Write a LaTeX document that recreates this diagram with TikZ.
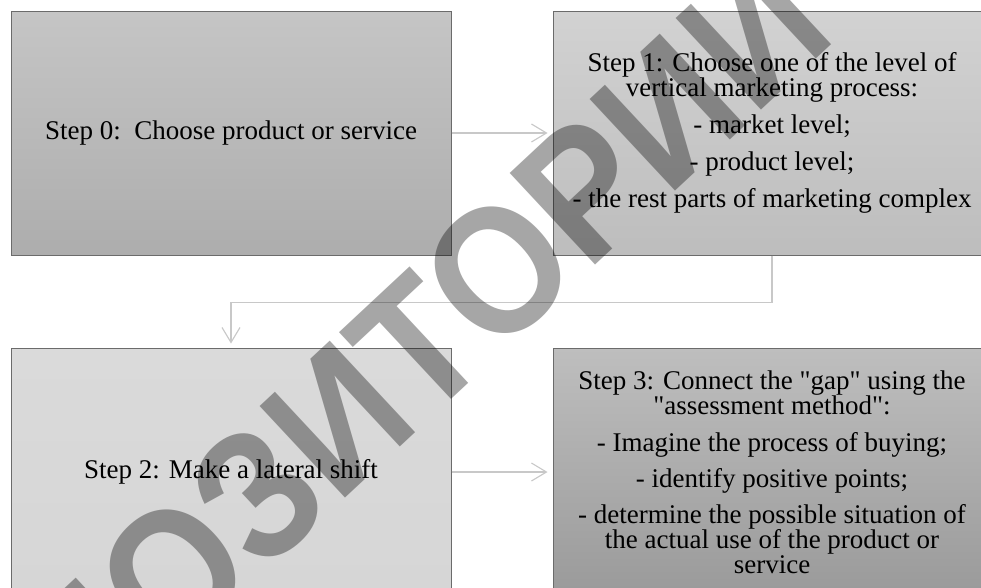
\documentclass[tikz,border=0pt]{standalone}
\usepackage{fontspec}
\setmainfont{Liberation Serif}
\newfontfamily\stepfont{Liberation Serif}
\newfontfamily\wmfont{Liberation Sans}
\usetikzlibrary{arrows.meta}
\definecolor{boxline}{HTML}{6B6B6B}
\definecolor{connc}{HTML}{C8C8C8}
\definecolor{czt}{HTML}{C5C5C5}
\definecolor{czb}{HTML}{ADADAD}
\definecolor{cot}{HTML}{D2D2D2}
\definecolor{cob}{HTML}{BDBDBD}
\definecolor{ctt}{HTML}{DADADA}
\definecolor{ctb}{HTML}{D6D6D6}
\definecolor{cht}{HTML}{BEBEBE}
\definecolor{chb}{HTML}{9A9A9A}
\begin{document}
\begin{tikzpicture}[x=1pt,y=-1pt,
  stepbox/.style={draw=boxline, line width=1pt, inner sep=0pt, align=center,
    font=\stepfont\fontsize{27}{25}\selectfont},
  conn/.style={draw=connc, line width=1.5pt,
    -{Straight Barb[length=15pt,width=18pt,line width=1.1pt]}}]
\useasboundingbox (0,0) rectangle (981,587);
\clip (0,0) rectangle (981,587);
\fill[white] (0,0) rectangle (981,587);

\node[stepbox, minimum width=440pt, minimum height=244pt,
      top color=czt, bottom color=czb] (s0) at (231,133)
  {Step 0:\ \ Choose product or service};
\node[stepbox, minimum width=438pt, minimum height=244pt,
      top color=cot, bottom color=cob] (s1) at (772,133)
  {Step 1: Choose one of the level of\\ vertical marketing process:\\[12pt]
   - market level;\\[12pt] - product level;\\[12pt] - the rest parts of marketing complex};
\node[stepbox, minimum width=440pt, minimum height=248pt,
      top color=ctt, bottom color=ctb] (s2) at (231,472)
  {Step 2: Make a lateral shift};
\node[stepbox, minimum width=438pt, minimum height=248pt,
      top color=cht, bottom color=chb] (s3) at (772,472)
  {Step 3: Connect the "gap" using the\\ "assessment method":\\[12pt]
   - Imagine the process of buying;\\[11pt] - identify positive points;\\[11pt]
   - determine the possible situation of\\ the actual use of the product or\\ service};

\draw[conn, shorten >=5pt] (s0) -- (s1);
\draw[conn, shorten >=4pt] (s1.south) -- ++(0,47) -| (s2.north);
\draw[conn, shorten >=5pt] (s2) -- (s3);

\node[rotate=43, text opacity=0.35, inner sep=0pt,
      font=\wmfont\bfseries\fontsize{182}{182}\selectfont] (wm) at (326,405)
  {\scalebox{0.9}[1]{РЕПОЗИТОРИЙ}};
\end{tikzpicture}
\end{document}
